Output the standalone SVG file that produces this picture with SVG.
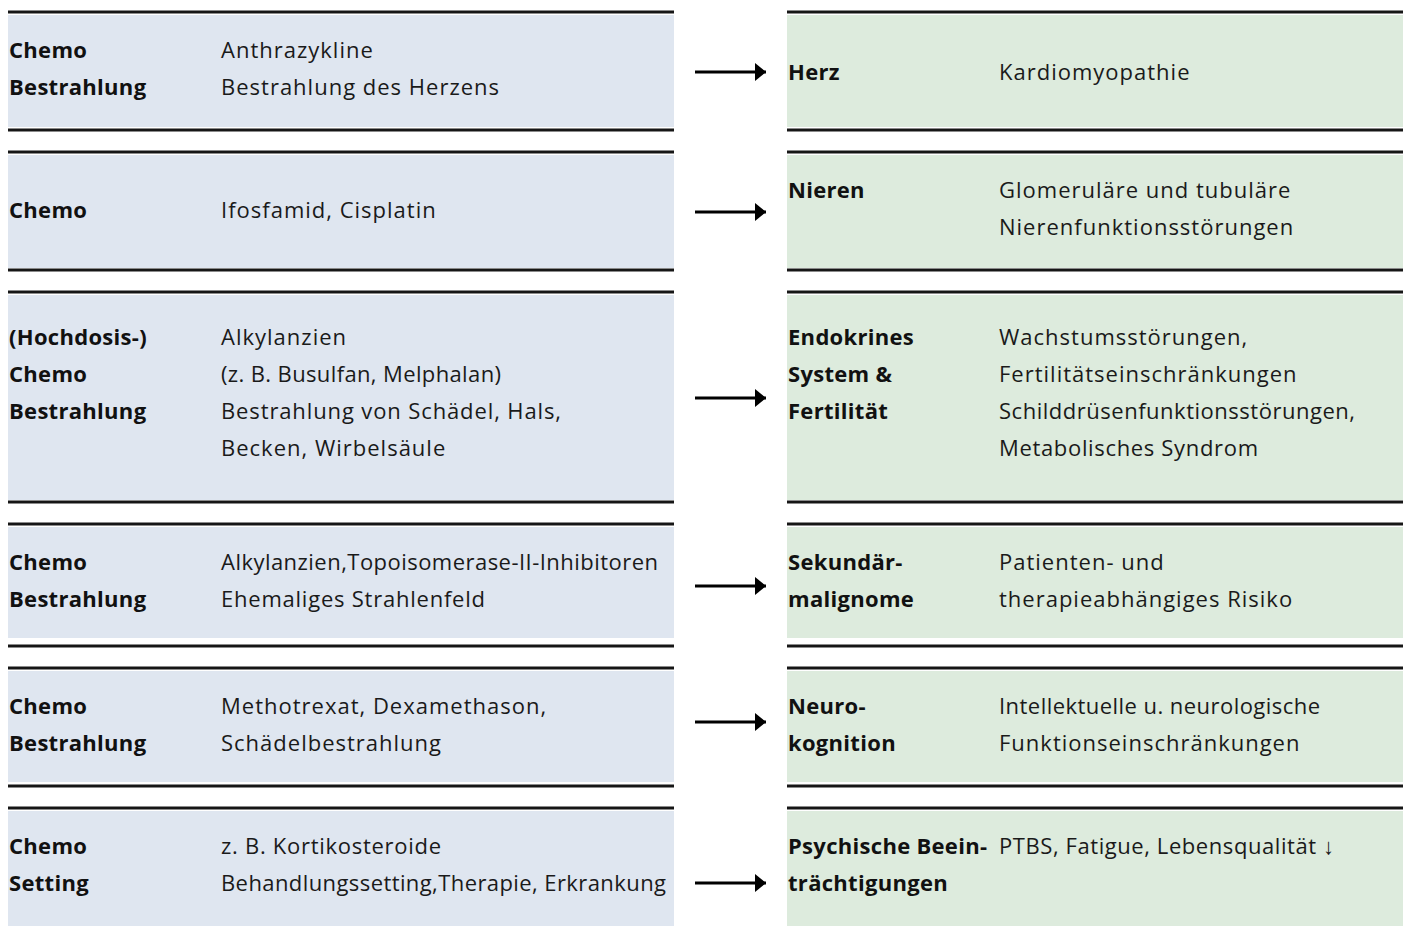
<svg xmlns="http://www.w3.org/2000/svg" width="1403" height="926" viewBox="0 0 1403 926">
<style>
.l{fill:#dfe6f0}
.r{fill:#ddebdd}
.rule{stroke:#161616;stroke-width:3}
text{font-family:"Open Sans","Noto Sans",sans-serif;font-size:22px;fill:#111}
.b{font-weight:700;letter-spacing:0.3px}
.t{font-weight:400;letter-spacing:1px;fill:#1a1a1a}
.arr{stroke:#000;stroke-width:3}
</style>
<defs>
<marker id="ah" markerWidth="12" markerHeight="20" refX="11" refY="9" orient="auto" markerUnits="userSpaceOnUse">
<path d="M0,0 L11,9 L0,18 Z" fill="#000"/>
</marker>
</defs>
<rect width="1403" height="926" fill="#fff"/>

<g id="row1-left">
<rect class="l" x="8" y="15" width="666" height="112"/>
<line class="rule" x1="8" y1="12" x2="674" y2="12"/>
<line class="rule" x1="8" y1="130" x2="674" y2="130"/>
<text class="b" x="9" y="57.5">Chemo</text>
<text class="b" x="9" y="94.5">Bestrahlung</text>
<text class="t" x="221" y="57.5">Anthrazykline</text>
<text class="t" x="221" y="94.5">Bestrahlung des Herzens</text>
</g>
<g id="row1-right">
<rect class="r" x="787" y="15" width="616" height="112"/>
<line class="rule" x1="787" y1="12" x2="1403" y2="12"/>
<line class="rule" x1="787" y1="130" x2="1403" y2="130"/>
<text class="b" x="788" y="79.5">Herz</text>
<text class="t" x="999" y="79.5">Kardiomyopathie</text>
</g>

<g id="row2-left">
<rect class="l" x="8" y="155" width="666" height="113"/>
<line class="rule" x1="8" y1="152" x2="674" y2="152"/>
<line class="rule" x1="8" y1="270" x2="674" y2="270"/>
<text class="b" x="9" y="217.5">Chemo</text>
<text class="t" x="221" y="217.5">Ifosfamid, Cisplatin</text>
</g>
<g id="row2-right">
<rect class="r" x="787" y="155" width="616" height="113"/>
<line class="rule" x1="787" y1="152" x2="1403" y2="152"/>
<line class="rule" x1="787" y1="270" x2="1403" y2="270"/>
<text class="b" x="788" y="197.5">Nieren</text>
<text class="t" x="999" y="197.5">Glomeruläre und tubuläre</text>
<text class="t" x="999" y="234.5">Nierenfunktionsstörungen</text>
</g>

<g id="row3-left">
<rect class="l" x="8" y="295" width="666" height="205"/>
<line class="rule" x1="8" y1="292" x2="674" y2="292"/>
<line class="rule" x1="8" y1="502" x2="674" y2="502"/>
<text class="b" x="9" y="344.5">(Hochdosis-)</text>
<text class="b" x="9" y="382">Chemo</text>
<text class="b" x="9" y="419">Bestrahlung</text>
<text class="t" x="221" y="344.5">Alkylanzien</text>
<text class="t" x="221" y="382" textLength="281" lengthAdjust="spacing">(z. B. Busulfan, Melphalan)</text>
<text class="t" x="221" y="419" textLength="341" lengthAdjust="spacing">Bestrahlung von Schädel, Hals,</text>
<text class="t" x="221" y="456">Becken, Wirbelsäule</text>
</g>
<g id="row3-right">
<rect class="r" x="787" y="295" width="616" height="205"/>
<line class="rule" x1="787" y1="292" x2="1403" y2="292"/>
<line class="rule" x1="787" y1="502" x2="1403" y2="502"/>
<text class="b" x="788" y="344.5">Endokrines</text>
<text class="b" x="788" y="382">System &amp;</text>
<text class="b" x="788" y="419">Fertilität</text>
<text class="t" x="999" y="344.5">Wachstumsstörungen,</text>
<text class="t" x="999" y="382">Fertilitätseinschränkungen</text>
<text class="t" x="999" y="419" textLength="357" lengthAdjust="spacing">Schilddrüsenfunktionsstörungen,</text>
<text class="t" x="999" y="456" textLength="260" lengthAdjust="spacing">Metabolisches Syndrom</text>
</g>

<g id="row4-left">
<rect class="l" x="8" y="527" width="666" height="111"/>
<line class="rule" x1="8" y1="524" x2="674" y2="524"/>
<line class="rule" x1="8" y1="646" x2="674" y2="646"/>
<text class="b" x="9" y="569.5">Chemo</text>
<text class="b" x="9" y="607">Bestrahlung</text>
<text class="t" x="221" y="569.5" textLength="438" lengthAdjust="spacing">Alkylanzien,Topoisomerase-II-Inhibitoren</text>
<text class="t" x="221" y="607" textLength="265" lengthAdjust="spacing">Ehemaliges Strahlenfeld</text>
</g>
<g id="row4-right">
<rect class="r" x="787" y="527" width="616" height="111"/>
<line class="rule" x1="787" y1="524" x2="1403" y2="524"/>
<line class="rule" x1="787" y1="646" x2="1403" y2="646"/>
<text class="b" x="788" y="569.5">Sekundär-</text>
<text class="b" x="788" y="607">malignome</text>
<text class="t" x="999" y="569.5">Patienten- und</text>
<text class="t" x="999" y="607">therapieabhängiges Risiko</text>
</g>

<g id="row5-left">
<rect class="l" x="8" y="671" width="666" height="111"/>
<line class="rule" x1="8" y1="668" x2="674" y2="668"/>
<line class="rule" x1="8" y1="786" x2="674" y2="786"/>
<text class="b" x="9" y="713.5">Chemo</text>
<text class="b" x="9" y="750.5">Bestrahlung</text>
<text class="t" x="221" y="713.5">Methotrexat, Dexamethason,</text>
<text class="t" x="221" y="750.5">Schädelbestrahlung</text>
</g>
<g id="row5-right">
<rect class="r" x="787" y="671" width="616" height="111"/>
<line class="rule" x1="787" y1="668" x2="1403" y2="668"/>
<line class="rule" x1="787" y1="786" x2="1403" y2="786"/>
<text class="b" x="788" y="713.5">Neuro-</text>
<text class="b" x="788" y="750.5">kognition</text>
<text class="t" x="999" y="713.5" textLength="322" lengthAdjust="spacing">Intellektuelle u. neurologische</text>
<text class="t" x="999" y="750.5">Funktionseinschränkungen</text>
</g>

<g id="row6-left">
<rect class="l" x="8" y="811" width="666" height="115"/>
<line class="rule" x1="8" y1="808" x2="674" y2="808"/>
<text class="b" x="9" y="853.5">Chemo</text>
<text class="b" x="9" y="890.5">Setting</text>
<text class="t" x="221" y="853.5" textLength="221" lengthAdjust="spacing">z. B. Kortikosteroide</text>
<text class="t" x="221" y="890.5" textLength="446" lengthAdjust="spacing">Behandlungssetting,Therapie, Erkrankung</text>
</g>
<g id="row6-right">
<rect class="r" x="787" y="811" width="616" height="115"/>
<line class="rule" x1="787" y1="808" x2="1403" y2="808"/>
<text class="b" x="788" y="853.5">Psychische Beein-</text>
<text class="b" x="788" y="890.5">trächtigungen</text>
<text class="t" x="999" y="853.5" textLength="336" lengthAdjust="spacing">PTBS, Fatigue, Lebensqualität ↓</text>
</g>

<g id="connectors">
<line class="arr" x1="695" y1="72" x2="766" y2="72" marker-end="url(#ah)"/>
<line class="arr" x1="695" y1="212" x2="766" y2="212" marker-end="url(#ah)"/>
<line class="arr" x1="695" y1="398" x2="766" y2="398" marker-end="url(#ah)"/>
<line class="arr" x1="695" y1="586" x2="766" y2="586" marker-end="url(#ah)"/>
<line class="arr" x1="695" y1="722" x2="766" y2="722" marker-end="url(#ah)"/>
<line class="arr" x1="695" y1="883" x2="766" y2="883" marker-end="url(#ah)"/>
</g>
</svg>
